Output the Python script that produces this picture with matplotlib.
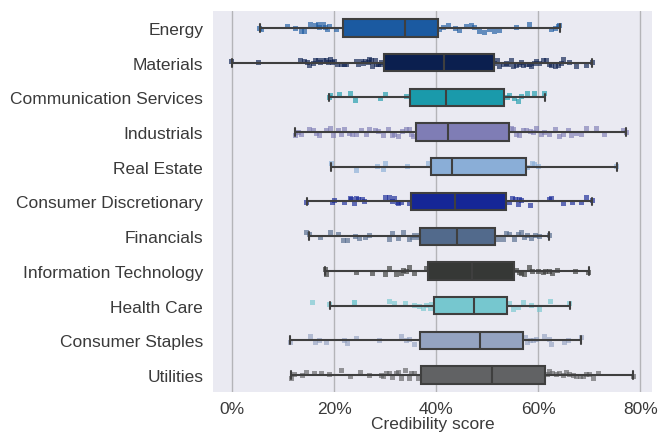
import numpy as np
import matplotlib
matplotlib.use("Agg")
import matplotlib.pyplot as plt
import seaborn as sns
from matplotlib.ticker import PercentFormatter

sectors = ["Energy", "Materials", "Communication Services", "Industrials", "Real Estate",
           "Consumer Discretionary", "Financials", "Information Technology", "Health Care",
           "Consumer Staples", "Utilities"]

colors = ["#1b5aa1", "#0b1f4f", "#1a9aab", "#7f7db5", "#8aaed7", "#152696",
          "#526a8c", "#363836", "#76c7cf", "#94a3c1", "#616264"]

# box statistics (percent)
whislo = [5.4, 0.0, 19.0, 12.4, 19.4, 14.6, 15.1, 18.2, 19.1, 11.4, 11.6]
q1     = [21.8, 29.7, 34.8, 36.0, 39.0, 35.1, 36.9, 38.4, 39.6, 36.9, 37.1]
median = [33.9, 41.6, 42.0, 42.4, 43.1, 43.7, 44.1, 47.1, 47.5, 48.6, 50.9]
q3     = [40.3, 51.3, 53.3, 54.3, 57.6, 53.7, 51.6, 55.2, 53.9, 57.1, 61.4]
whishi = [64.3, 70.6, 61.3, 77.3, 75.4, 70.6, 62.2, 69.9, 66.2, 68.4, 78.6]

# individual scores (percent)
energy_pts = [5.3, 5.75, 10.8, 12.5, 13.5, 14.2, 15.4, 16.4, 16.9, 17.2, 17.8, 18.2, 18.6, 19.0, 20.5,
              24, 27, 30, 33, 36, 38,
              40.7, 41.4, 42.4, 43.7, 44.6, 45.9, 46.9, 47.6, 48.4, 49.5, 50.5, 51.5, 52.5, 55.8,
              58.2, 62.6, 63.3, 63.9, 64.2]
materials_pts = [-0.1, 5.2, 13.3, 14.2, 14.7, 15.2, 15.9, 16.4, 16.9, 17.4, 17.8, 18.4, 18.8, 19.3,
                 19.6, 20.1, 20.6, 21.4, 22.1, 22.4, 24.4, 24.8, 25.4, 25.7, 26.2, 26.7, 27.0, 27.3,
                 27.6, 28.0, 28.3, 28.6, 29.0, 29.3,
                 32, 35, 38, 41, 44, 47, 50,
                 51.5, 52.0, 52.5, 53.1, 53.7, 54.1, 54.8, 55.2, 55.8, 56.3, 56.7, 57.2, 57.7, 58.2,
                 58.7, 59.2, 59.7, 60.3, 61.0, 61.6, 62.2, 62.6, 63.3, 63.9, 64.6, 65.0, 66.2, 67.5,
                 69.5, 70.6]
comm_pts = [19.0, 19.2, 21.1, 23.1, 24.1, 29.0, 30.1, 34.1, 38, 42, 47, 51,
            54.0, 54.4, 55.4, 56.1, 56.7, 58.0, 59.3, 61.2]
industrials_pts = [12.4, 12.9, 13.6, 15.2, 15.9, 16.5, 17.2, 18.5, 19.2, 19.8, 20.8, 21.4, 22.1, 22.9,
                   23.6, 24.4, 25.4, 26.3, 27.0, 28.0, 28.6, 29.6, 30.6, 31.4, 31.9, 32.7, 33.4, 34.2,
                   34.7, 35.2, 35.6, 39, 42, 45, 48, 51,
                   54.8, 55.2, 55.8, 56.4, 57.1, 57.7, 58.4, 59.0, 59.7, 60.7, 61.3, 62.3, 63.3, 64.1,
                   64.9, 65.9, 66.5, 67.5, 68.5, 69.5, 71.4, 73.1, 76.7, 77.3]
realestate_pts = [19.4, 24.4, 28.5, 29.6, 30.1, 34.4, 38.4, 42, 46, 51, 55,
                  58.0, 58.9, 59.3, 60.0, 75.4]
consdisc_pts = [14.6, 19.7, 20.1, 22.1, 23.1, 23.4, 23.9, 24.4, 24.7, 25.6, 26.0, 30.1, 30.9, 31.4,
                31.9, 32.4, 32.7, 33.2, 34.7, 38, 42, 46, 50,
                54.3, 54.9, 55.6, 56.1, 56.4, 56.7, 58.5, 62.2, 62.6, 64.9, 66.7, 68.5, 69.5, 70.6]
financials_pts = [14.6, 15.1, 17.4, 19.2, 20.8, 21.8, 22.7, 24.2, 25.0, 26.2, 26.9, 30.8, 31.4, 32.7,
                  33.5, 34.7, 35.4, 35.8, 36.3, 36.7, 40, 44, 48,
                  52.2, 53.1, 53.8, 54.4, 55.4, 56.1, 56.7, 57.4, 58.0, 58.7, 59.5, 60.3, 62.2]
infotech_pts = [18.2, 18.5, 24.4, 27.6, 30.1, 30.9, 32.2, 33.2, 33.5, 34.2, 34.8, 35.8, 38.1,
                42, 46, 50, 53,
                55.8, 56.3, 56.7, 57.4, 58.2, 58.9, 60.0, 61.0, 61.5, 62.2, 62.9, 63.7, 67.4, 69.9]
health_pts = [15.8, 19.0, 23.9, 24.0, 30.8, 31.9, 33.9, 35.8, 36.8, 37.5, 38.1, 38.8, 39.1,
              43, 47, 51,
              54.4, 55.1, 56.1, 57.1, 58.6, 60.2, 62.4, 66.2]
staples_pts = [11.4, 15.4, 16.4, 17.2, 18.5, 22.1, 22.7, 24.4, 28.8, 33.2, 34.2, 34.8, 35.8,
               40, 45, 50, 54,
               57.6, 58.0, 58.5, 59.0, 59.7, 61.3, 62.2, 62.6, 65.2, 65.9, 68.4]
utilities_pts = [11.6, 12.3, 13.8, 14.6, 16.2, 17.5, 19.0, 21.4, 23.1, 25.2, 27.0, 29.3, 29.7, 30.3,
                 30.8, 31.4, 32.2, 32.7, 33.2, 33.9, 34.7, 35.2, 35.8, 36.5, 40, 45, 50, 55, 59,
                 61.8, 62.3, 62.9, 63.6, 64.2, 64.9, 65.6, 66.2, 66.9, 67.5, 68.2, 68.8, 69.5, 70.1,
                 70.8, 71.8, 78.6]

points = [energy_pts, materials_pts, comm_pts, industrials_pts, realestate_pts, consdisc_pts,
          financials_pts, infotech_pts, health_pts, staples_pts, utilities_pts]

sns.set_theme(style="darkgrid")
plt.rcParams['font.family'] = ['Liberation Sans', 'DejaVu Sans']

fig = plt.figure(figsize=(6.59, 4.35), dpi=100)
ax = fig.add_axes([0.323, 0.096, 0.667, 0.877])
ax.set_facecolor("#eaeaf2")

# strip points
np.random.seed(3)
xs, ys = [], []
for name, pts in zip(sectors, points):
    xs += [p / 100 for p in pts]
    ys += [name] * len(pts)
sns.stripplot(x=xs, y=ys, order=sectors, hue=ys, hue_order=sectors, palette=colors,
              marker="s", size=3.6, alpha=0.65, jitter=0.12, linewidth=0,
              legend=False, ax=ax, zorder=1)

# boxes
stats = []
for i, name in enumerate(sectors):
    stats.append(dict(label=name, whislo=whislo[i] / 100, q1=q1[i] / 100, med=median[i] / 100,
                      q3=q3[i] / 100, whishi=whishi[i] / 100, fliers=[]))
edge = "#3f3f3f"
bp = ax.bxp(stats, positions=range(len(sectors)), vert=False, widths=0.5, patch_artist=True,
            showfliers=False, capwidths=0.22, manage_ticks=False,
            boxprops=dict(edgecolor=edge, linewidth=1.5),
            medianprops=dict(color=edge, linewidth=1.5),
            whiskerprops=dict(color=edge, linewidth=1.5),
            capprops=dict(color=edge, linewidth=1.5))
for patch, c in zip(bp["boxes"], colors):
    patch.set_facecolor(c)
for art in bp["boxes"] + bp["medians"] + bp["whiskers"] + bp["caps"]:
    art.set_zorder(3)

ax.set_xlim(-0.038, 0.824)
ax.set_ylim(10.5, -0.5)
ax.set_yticks(range(len(sectors)))
ax.set_yticklabels(sectors)
ax.set_xticks([0, 0.2, 0.4, 0.6, 0.8])
ax.xaxis.set_major_formatter(PercentFormatter(1.0, decimals=0))
ax.grid(axis="x", color="#b4b4b8", linewidth=1.0)
ax.grid(axis="y", visible=False)
ax.tick_params(axis="y", labelsize=12.5, colors="#3a3a3a", length=0, pad=7)
ax.tick_params(axis="x", labelsize=12.5, colors="#3a3a3a", length=0, pad=6)
ax.set_xlabel("Credibility score", fontsize=12.5, color="#3a3a3a", labelpad=0)
ax.set_ylabel("")
for s in ax.spines.values():
    s.set_visible(False)

fig.savefig("out.png", dpi=100)
